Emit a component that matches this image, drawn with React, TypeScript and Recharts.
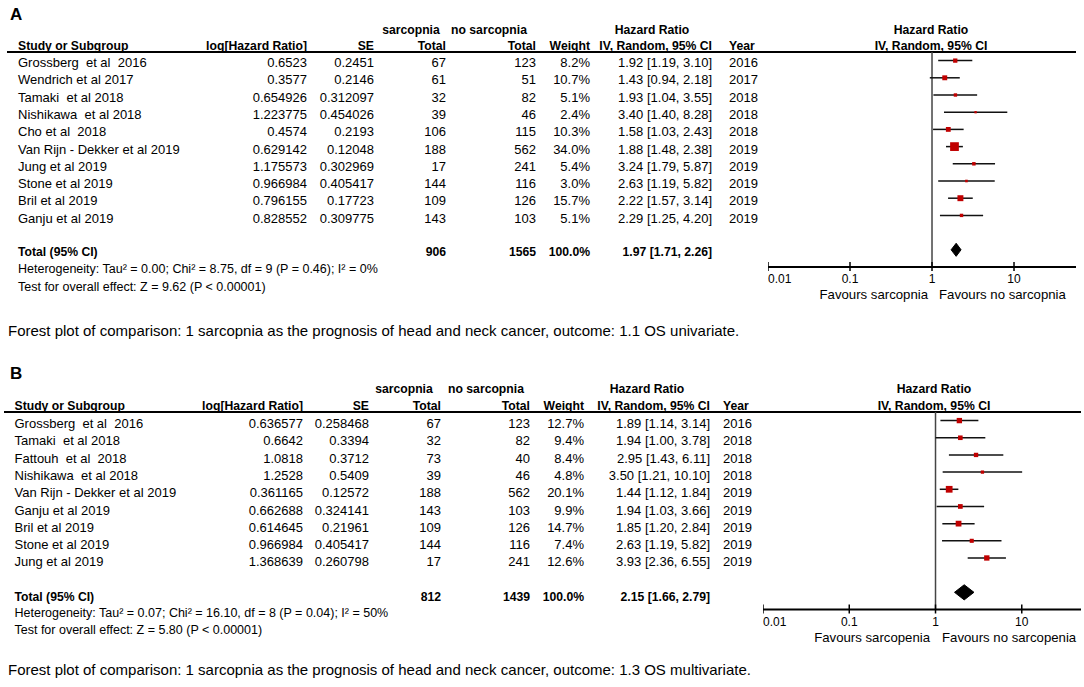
import React from 'react';
import { ComposedChart, Scatter, ErrorBar, Area, XAxis, YAxis, ReferenceLine } from 'recharts';

const FONT = 'Arial, "Liberation Sans", Helvetica, sans-serif';
const BOX = '#c00000';

// A - OS univariate
const studiesA = ['Grossberg  et al  2016', 'Wendrich et al 2017', 'Tamaki  et al 2018', 'Nishikawa  et al 2018', 'Cho et al  2018', 'Van Rijn - Dekker et al 2019', 'Jung et al 2019', 'Stone et al 2019', 'Bril et al 2019', 'Ganju et al 2019'];
const logHrA = ['0.6523', '0.3577', '0.654926', '1.223775', '0.4574', '0.629142', '1.175573', '0.966984', '0.796155', '0.828552'];
const seA = ['0.2451', '0.2146', '0.312097', '0.454026', '0.2193', '0.12048', '0.302969', '0.405417', '0.17723', '0.309775'];
const sarcA = [67, 61, 32, 39, 106, 188, 17, 144, 109, 143];
const noSarcA = [123, 51, 82, 46, 115, 562, 241, 116, 126, 103];
const weightA = [8.2, 10.7, 5.1, 2.4, 10.3, 34.0, 5.4, 3.0, 15.7, 5.1];
const hrA = [1.92, 1.43, 1.93, 3.40, 1.58, 1.88, 3.24, 2.63, 2.22, 2.29];
const lowA = [1.19, 0.94, 1.04, 1.40, 1.03, 1.48, 1.79, 1.19, 1.57, 1.25];
const highA = [3.10, 2.18, 3.55, 8.28, 2.43, 2.38, 5.87, 5.82, 3.14, 4.20];
const yearA = [2016, 2017, 2018, 2018, 2018, 2019, 2019, 2019, 2019, 2019];
const totalsA = [906, 1565];
const pooledA = [1.97, 1.71, 2.26];
const hetA = 'Heterogeneity: Tau\u00b2 = 0.00; Chi\u00b2 = 8.75, df = 9 (P = 0.46); I\u00b2 = 0%';
const testA = 'Test for overall effect: Z = 9.62 (P < 0.00001)';

// B - OS multivariate
const studiesB = ['Grossberg  et al  2016', 'Tamaki  et al 2018', 'Fattouh  et al  2018', 'Nishikawa  et al 2018', 'Van Rijn - Dekker et al 2019', 'Ganju et al 2019', 'Bril et al 2019', 'Stone et al 2019', 'Jung et al 2019'];
const logHrB = ['0.636577', '0.6642', '1.0818', '1.2528', '0.361165', '0.662688', '0.614645', '0.966984', '1.368639'];
const seB = ['0.258468', '0.3394', '0.3712', '0.5409', '0.12572', '0.324141', '0.21961', '0.405417', '0.260798'];
const sarcB = [67, 32, 73, 39, 188, 143, 109, 144, 17];
const noSarcB = [123, 82, 40, 46, 562, 103, 126, 116, 241];
const weightB = [12.7, 9.4, 8.4, 4.8, 20.1, 9.9, 14.7, 7.4, 12.6];
const hrB = [1.89, 1.94, 2.95, 3.50, 1.44, 1.94, 1.85, 2.63, 3.93];
const lowB = [1.14, 1.00, 1.43, 1.21, 1.12, 1.03, 1.20, 1.19, 2.36];
const highB = [3.14, 3.78, 6.11, 10.10, 1.84, 3.66, 2.84, 5.82, 6.55];
const yearB = [2016, 2018, 2018, 2018, 2019, 2019, 2019, 2019, 2019];
const totalsB = [812, 1439];
const pooledB = [2.15, 1.66, 2.79];
const hetB = 'Heterogeneity: Tau\u00b2 = 0.07; Chi\u00b2 = 16.10, df = 8 (P = 0.04); I\u00b2 = 50%';
const testB = 'Test for overall effect: Z = 5.80 (P < 0.00001)';

const tickValues = [0.01, 0.1, 1, 10];

const layoutA = {
  tag: 'A', tagY: 15, head1Y: 30, head2Y: 46, ruleY: 52, ruleX0: 7, ruleX1: 1076,
  rowY0: 63, rowStep: 17.3, totalY: 252, hetY: 269, testY: 287,
  name: 18, logHr: 307, se: 374, sarc: 446, noSarc: 536, weight: 590, ci: 712, year: 729,
  sarcHead: 411, noSarcHead: 489, hrHead: 652, plotHead: 931,
  plotLeft: 768, plotRight: 1076, plotTop: 52, plotBottom: 267,
  xDomain: [0.01, 57], yDomain: [-0.5, 12], totalRow: 11, dh: 0.38,
  favY: 295, favLeftEnd: 928, favRightStart: 939, captionY: 331,
};

const layoutB = {
  tag: 'B', tagY: 374, head1Y: 389, head2Y: 406, ruleY: 412, ruleX0: 4, ruleX1: 1081,
  rowY0: 424, rowStep: 17.3, totalY: 597, hetY: 613, testY: 630,
  name: 14.5, logHr: 303, se: 369, sarc: 441, noSarc: 530, weight: 584, ci: 710, year: 723,
  sarcHead: 404, noSarcHead: 486, hrHead: 647, plotHead: 934,
  plotLeft: 763, plotRight: 1081, plotTop: 412, plotBottom: 609.5,
  xDomain: [0.01, 48.6], yDomain: [-0.5, 11], totalRow: 10, dh: 0.44,
  favY: 638, favLeftEnd: 930, favRightStart: 942, captionY: 670,
};

const ROW_SIZE = 13;
const HEAD_SIZE = 12.2;

function T({ x, y, align = 'left', bold = false, size = ROW_SIZE, children }: any) {
  const w = 400;
  const left = align === 'left' ? x : align === 'right' ? x - w : x - w / 2;
  return (
    <div
      style={{
        position: 'absolute',
        left,
        top: y - 8,
        width: align === 'left' ? undefined : w,
        textAlign: align,
        fontSize: size,
        fontWeight: bold ? 'bold' : 'normal',
        lineHeight: '16px',
        whiteSpace: 'pre',
      }}
    >
      {children}
    </div>
  );
}

const AxisTick = (props: any) => {
  const { x, y, payload, index } = props;
  return (
    <g>
      <line x1={x} x2={x} y1={y - 5} y2={y + 4} stroke="#000" strokeWidth={1.5} />
      <text x={x} y={y + 16} textAnchor={index === 0 ? 'start' : 'middle'} fontSize={12} fontFamily={FONT} fill="#000">
        {payload.value}
      </text>
    </g>
  );
};

const Box = (props: any) => {
  const { cx, cy, payload } = props;
  const s = 1.5 * Math.sqrt(payload.w);
  return <rect x={cx - s / 2} y={cy - s / 2} width={s} height={s} fill={BOX} />;
};

function ForestPlot({ lay, hr, low, high, weight, pooled }: any) {
  const points = hr.map((v: number, i: number) => ({ x: v, y: i, w: weight[i], err: [v - low[i], high[i] - v] }));
  const r = lay.totalRow;
  const diamond = [
    { x: pooled[1], band: [r, r] },
    { x: pooled[0], band: [r - lay.dh, r + lay.dh] },
    { x: pooled[2], band: [r, r] },
  ];
  const width = lay.plotRight - lay.plotLeft;
  const axisH = 40;
  const height = lay.plotBottom - lay.plotTop + axisH;
  return (
    <div style={{ position: 'absolute', left: lay.plotLeft, top: lay.plotTop }}>
      <ComposedChart width={width} height={height} margin={{ top: 0, right: 0, bottom: 0, left: 0 }}>
        <XAxis
          type="number"
          dataKey="x"
          scale="log"
          domain={lay.xDomain}
          allowDataOverflow
          ticks={tickValues}
          interval={0}
          height={axisH}
          tickSize={0}
          tickMargin={0}
          tickLine={false}
          axisLine={{ stroke: '#000', strokeWidth: 2 }}
          tick={(p: any) => <AxisTick {...p} />}
        />
        <YAxis type="number" dataKey="y" domain={lay.yDomain} reversed hide allowDataOverflow />
        <ReferenceLine x={1} stroke="#444" strokeWidth={1.5} />
        <Area
          data={diamond}
          dataKey="band"
          type="linear"
          stroke="#000"
          strokeWidth={1}
          fill="#000"
          fillOpacity={1}
          dot={false}
          activeDot={false}
          isAnimationActive={false}
        />
        <Scatter data={points} shape={(p: any) => <Box {...p} />} isAnimationActive={false}>
          <ErrorBar dataKey="err" direction="x" width={0} stroke="#111" strokeWidth={1.5} />
        </Scatter>
      </ComposedChart>
    </div>
  );
}

function Panel({ lay, studies, logHr, se, sarc, noSarc, weight, hr, low, high, year, totals, pooled, het, test, favours, caption }: any) {
  const rowY = (i: number) => lay.rowY0 + i * lay.rowStep;
  const fmt = (i: number) => `${hr[i].toFixed(2)} [${low[i].toFixed(2)}, ${high[i].toFixed(2)}]`;
  return (
    <>
      <T x={10} y={lay.tagY} bold size={17}>{lay.tag}</T>
      <T x={lay.sarcHead} y={lay.head1Y} align="center" bold size={HEAD_SIZE}>sarcopnia</T>
      <T x={lay.noSarcHead} y={lay.head1Y} align="center" bold size={HEAD_SIZE}>no sarcopnia</T>
      <T x={lay.hrHead} y={lay.head1Y} align="center" bold size={HEAD_SIZE}>Hazard Ratio</T>
      <T x={lay.plotHead} y={lay.head1Y} align="center" bold size={HEAD_SIZE}>Hazard Ratio</T>
      <T x={lay.name} y={lay.head2Y} bold size={HEAD_SIZE}>Study or Subgroup</T>
      <T x={lay.logHr} y={lay.head2Y} align="right" bold size={HEAD_SIZE}>log[Hazard Ratio]</T>
      <T x={lay.se} y={lay.head2Y} align="right" bold size={HEAD_SIZE}>SE</T>
      <T x={lay.sarc} y={lay.head2Y} align="right" bold size={HEAD_SIZE}>Total</T>
      <T x={lay.noSarc} y={lay.head2Y} align="right" bold size={HEAD_SIZE}>Total</T>
      <T x={lay.weight} y={lay.head2Y} align="right" bold size={HEAD_SIZE}>Weight</T>
      <T x={lay.ci} y={lay.head2Y} align="right" bold size={HEAD_SIZE}>IV, Random, 95% CI</T>
      <T x={lay.year} y={lay.head2Y} bold size={HEAD_SIZE}>Year</T>
      <T x={lay.plotHead} y={lay.head2Y} align="center" bold size={HEAD_SIZE}>IV, Random, 95% CI</T>
      <div style={{ position: 'absolute', left: lay.ruleX0, top: lay.ruleY - 1, width: lay.ruleX1 - lay.ruleX0, height: 2, background: '#000' }} />
      {studies.map((s: string, i: number) => (
        <React.Fragment key={s}>
          <T x={lay.name} y={rowY(i)}>{s}</T>
          <T x={lay.logHr} y={rowY(i)} align="right">{logHr[i]}</T>
          <T x={lay.se} y={rowY(i)} align="right">{se[i]}</T>
          <T x={lay.sarc} y={rowY(i)} align="right">{sarc[i]}</T>
          <T x={lay.noSarc} y={rowY(i)} align="right">{noSarc[i]}</T>
          <T x={lay.weight} y={rowY(i)} align="right">{weight[i].toFixed(1)}%</T>
          <T x={lay.ci} y={rowY(i)} align="right">{fmt(i)}</T>
          <T x={lay.year} y={rowY(i)}>{year[i]}</T>
        </React.Fragment>
      ))}
      <T x={lay.name} y={lay.totalY} bold size={HEAD_SIZE}>Total (95% CI)</T>
      <T x={lay.sarc} y={lay.totalY} align="right" bold size={HEAD_SIZE}>{totals[0]}</T>
      <T x={lay.noSarc} y={lay.totalY} align="right" bold size={HEAD_SIZE}>{totals[1]}</T>
      <T x={lay.weight} y={lay.totalY} align="right" bold size={HEAD_SIZE}>100.0%</T>
      <T x={lay.ci} y={lay.totalY} align="right" bold size={HEAD_SIZE}>
        {`${pooled[0].toFixed(2)} [${pooled[1].toFixed(2)}, ${pooled[2].toFixed(2)}]`}
      </T>
      <T x={lay.name} y={lay.hetY} size={12.5}>{het}</T>
      <T x={lay.name} y={lay.testY} size={12.5}>{test}</T>
      <ForestPlot lay={lay} hr={hr} low={low} high={high} weight={weight} pooled={pooled} />
      <T x={lay.favLeftEnd} y={lay.favY} align="right" size={13.2}>{favours[0]}</T>
      <T x={lay.favRightStart} y={lay.favY} size={13.2}>{favours[1]}</T>
      <T x={8} y={lay.captionY} size={15}>{caption}</T>
    </>
  );
}

export default function App() {
  return (
    <div
      style={{
        position: 'absolute',
        left: 0,
        top: 0,
        width: 1084,
        height: 687,
        background: '#fff',
        color: '#000',
        fontFamily: FONT,
        overflow: 'hidden',
      }}
    >
      <Panel
        lay={layoutA}
        studies={studiesA}
        logHr={logHrA}
        se={seA}
        sarc={sarcA}
        noSarc={noSarcA}
        weight={weightA}
        hr={hrA}
        low={lowA}
        high={highA}
        year={yearA}
        totals={totalsA}
        pooled={pooledA}
        het={hetA}
        test={testA}
        favours={['Favours sarcopnia', 'Favours no sarcopnia']}
        caption="Forest plot of comparison: 1 sarcopnia as the prognosis of head and neck cancer, outcome: 1.1 OS univariate."
      />
      <Panel
        lay={layoutB}
        studies={studiesB}
        logHr={logHrB}
        se={seB}
        sarc={sarcB}
        noSarc={noSarcB}
        weight={weightB}
        hr={hrB}
        low={lowB}
        high={highB}
        year={yearB}
        totals={totalsB}
        pooled={pooledB}
        het={hetB}
        test={testB}
        favours={['Favours sarcopenia', 'Favours no sarcopenia']}
        caption="Forest plot of comparison: 1 sarcopnia as the prognosis of head and neck cancer, outcome: 1.3 OS multivariate."
      />
    </div>
  );
}
